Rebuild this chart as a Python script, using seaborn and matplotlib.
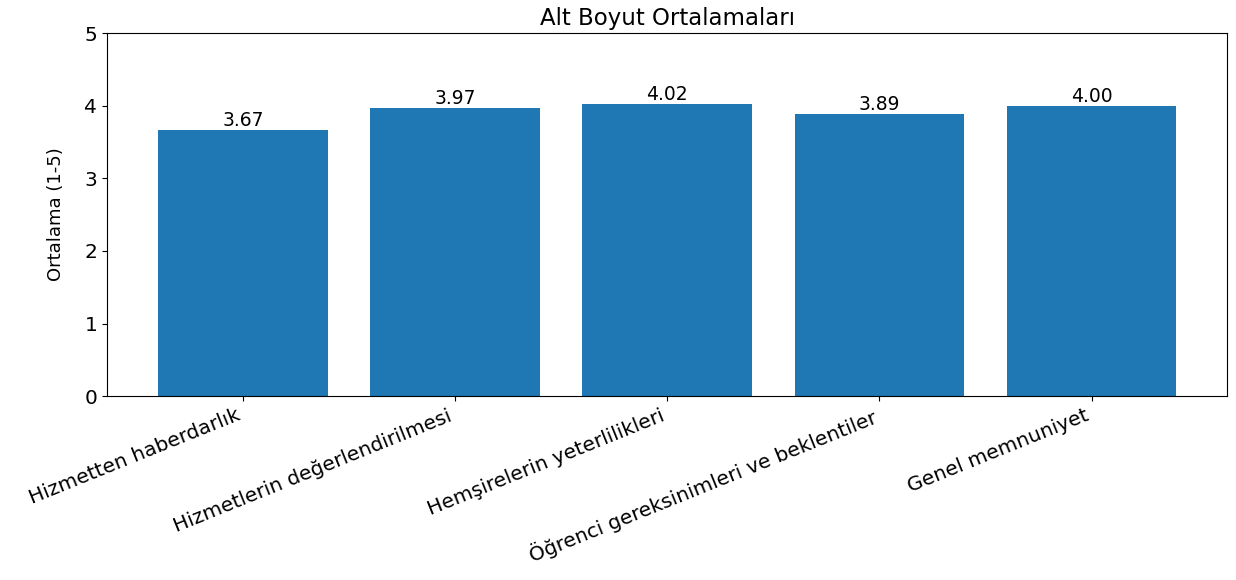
import matplotlib
matplotlib.use("Agg")
import matplotlib.pyplot as plt
import seaborn as sns
import pandas as pd

categories = ["Hizmetten haberdarlık", "Hizmetlerin değerlendirilmesi",
              "Hemşirelerin yeterlilikleri", "Öğrenci gereksinimleri ve beklentiler",
              "Genel memnuniyet"]
means = [3.67, 3.97, 4.02, 3.89, 4.00]

df = pd.DataFrame({"Alt Boyut": categories, "Ortalama": means})

fig, ax = plt.subplots(figsize=(12.36, 5.8), dpi=100)
fig.subplots_adjust(left=0.0866, right=0.993, top=0.943, bottom=0.317)
sns.barplot(data=df, x="Alt Boyut", y="Ortalama", color="#1f77b4", saturation=1, width=0.8, ax=ax)
ax.bar_label(ax.containers[0], fmt="%.2f", fontsize=13.5)
ax.set_ylim(0, 5)
ax.set_xlim(-0.64, 4.64)
ax.set_title("Alt Boyut Ortalamaları", fontsize=16.5)
ax.set_ylabel("Ortalama (1-5)", fontsize=13, labelpad=14)
ax.set_xlabel("")
ax.tick_params(axis="both", labelsize=14.5)
plt.setp(ax.get_xticklabels(), rotation=22, ha="right")
fig.savefig("out.png", dpi=100)
